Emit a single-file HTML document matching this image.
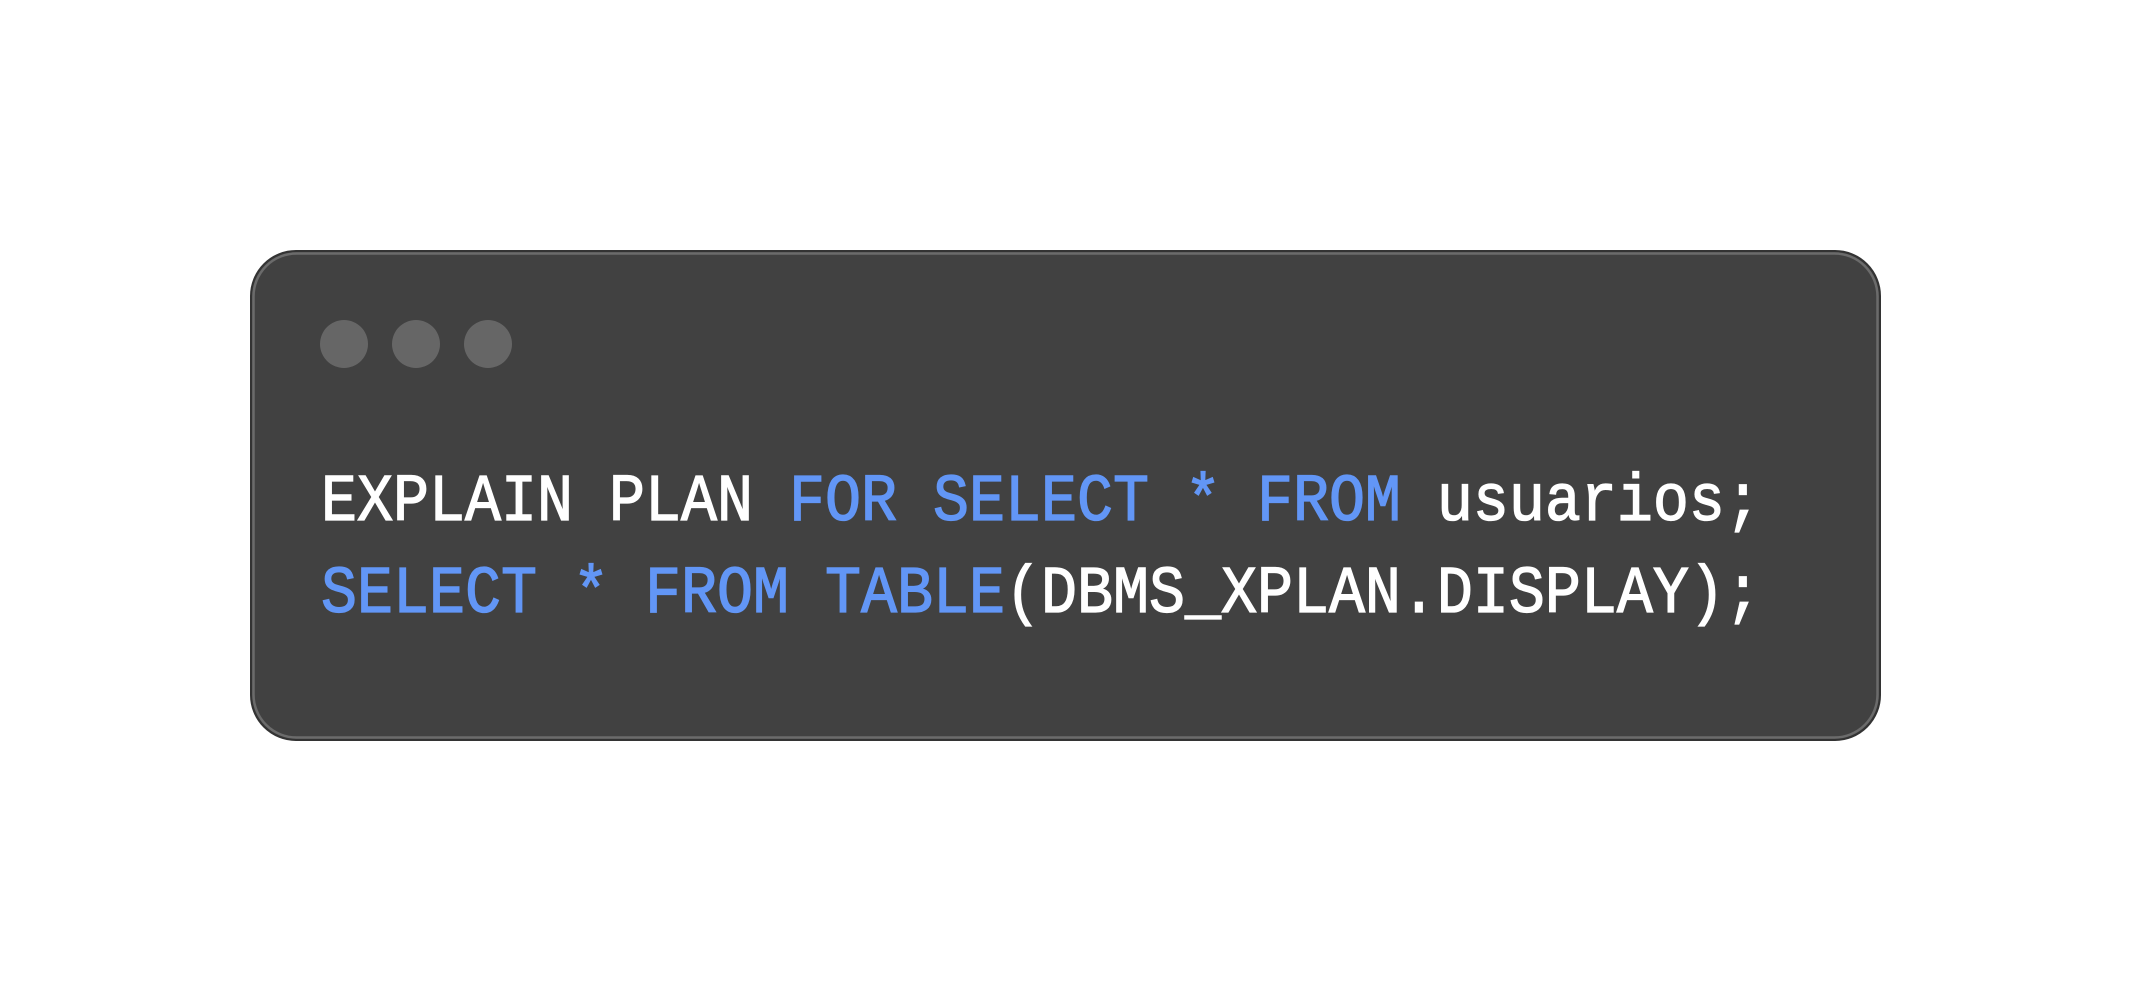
<!DOCTYPE html>
<html><head><meta charset="utf-8"><style>
html,body{margin:0;padding:0;background:#fff;width:2132px;height:992px;overflow:hidden}
</style></head><body>
<svg width="2132" height="992" viewBox="0 0 2132 992" xmlns="http://www.w3.org/2000/svg">
<rect x="251" y="251" width="1629" height="489" rx="45" ry="45" fill="#414141" stroke="#333" stroke-width="2"/>
<rect x="253.5" y="253.5" width="1624" height="484" rx="43" ry="43" fill="none" stroke="#6b6b6b" stroke-width="2.5"/>
<circle cx="344" cy="344" r="24" fill="#666"/>
<circle cx="416" cy="344" r="24" fill="#666"/>
<circle cx="488" cy="344" r="24" fill="#666"/>
<g font-family="'Liberation Mono', monospace" font-size="60" xml:space="preserve" stroke-width="1.2">
<text transform="translate(321,520) scale(1,1.12)" fill="#ffffff" stroke="#ffffff">EXPLAIN PLAN <tspan fill="#6296f6" stroke="#6296f6">FOR SELECT * FROM</tspan> usuarios;</text>
<text transform="translate(321,612) scale(1,1.12)" fill="#6296f6" stroke="#6296f6">SELECT * FROM TABLE<tspan fill="#ffffff" stroke="#ffffff">(DBMS_XPLAN.DISPLAY);</tspan></text>
</g>
</svg>
</body></html>
